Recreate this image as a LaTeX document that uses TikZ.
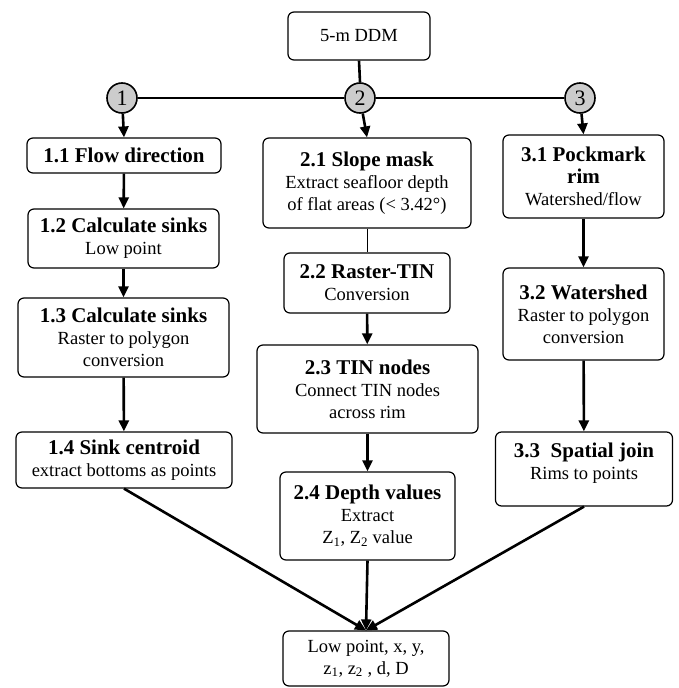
\documentclass[tikz,border=0pt]{standalone}
\usepackage{fontspec}
\setmainfont{Liberation Serif}
\usetikzlibrary{arrows.meta}

\newcommand{\titulo}[1]{{\bfseries\fontsize{21}{22}\selectfont #1}}

\begin{document}
\begin{tikzpicture}[x=1pt, y=-1pt,
    caja/.style={draw, rounded corners=6pt, line width=1.2pt, align=center,
        inner sep=0pt, font=\fontsize{18.5}{22}\selectfont},
    circulo/.style={draw, circle, fill=gray!40, line width=1.6pt,
        minimum size=30pt, inner sep=0pt, font=\fontsize{22}{22}\selectfont},
    linea/.style={line width=2.6pt},
    flecha/.style={line width=2.6pt, -{Triangle[length=11pt,width=10pt]}}
]
    \useasboundingbox (0,0) rectangle (678,688);

    % Modelo de entrada
    \node[caja, minimum width=142pt, minimum height=48pt] (ddm) at (359,36) {5-m DDM};

    % Ramas 1, 2 y 3
    \node[circulo] (c1) at (122,98) {1};
    \node[circulo] (c2) at (360,98) {2};
    \node[circulo] (c3) at (580,98) {3};
    \draw[linea] (ddm.south) -- (c2.north);
    \draw[linea] (c1) -- (c2) -- (c3);

    % Columna 1
    \node[caja, minimum width=194pt, minimum height=35pt] (n11) at (124,155.5)
        {\titulo{1.1 Flow direction}};
    \node[caja, minimum width=191pt, minimum height=59pt] (n12) at (123.5,238.5)
        {\titulo{1.2 Calculate sinks}\\Low point};
    \node[caja, minimum width=211pt, minimum height=79pt] (n13) at (123.5,337.5)
        {\titulo{1.3 Calculate sinks}\\Raster to polygon\\conversion};
    \node[caja, minimum width=216pt, minimum height=56pt] (n14) at (124,460)
        {\titulo{1.4 Sink centroid}\\extract bottoms as points};

    % Columna 2
    \node[caja, minimum width=208pt, minimum height=90pt] (n21) at (367,183)
        {\titulo{2.1 Slope mask}\\Extract seafloor depth\\of flat areas (< 3.42°)};
    \node[caja, minimum width=166pt, minimum height=60pt] (n22) at (367,283)
        {\titulo{2.2 Raster-TIN}\\Conversion};
    \node[caja, minimum width=221pt, minimum height=88pt] (n23) at (367.5,389)
        {\titulo{2.3 TIN nodes}\\Connect TIN nodes\\across rim};
    \node[caja, minimum width=175pt, minimum height=88pt] (n24) at (367.5,516)
        {\titulo{2.4 Depth values}\\Extract\\Z\textsubscript{1}, Z\textsubscript{2} value};

    % Columna 3
    \node[caja, minimum width=161pt, minimum height=83pt] (n31) at (583.5,176.5)
        {\titulo{3.1 Pockmark}\\\titulo{rim}\\Watershed/flow};
    \node[caja, minimum width=161pt, minimum height=92pt] (n32) at (583.5,314)
        {\titulo{3.2 Watershed}\\Raster to polygon\\conversion};
    \node[caja, minimum width=177pt, minimum height=74pt] (n33) at (584,469)
        {\titulo{3.3\ \ Spatial join}\\Rims to points\\[-6pt]\mbox{}};

    % Resultado
    \node[caja, minimum width=166pt, minimum height=55pt] (low) at (366,658.5)
        {Low point, x, y,\\z\textsubscript{1}, z\textsubscript{2} , d, D};

    % Flechas
    \draw[flecha] (c1) -- (n11.north);
    \draw[flecha] (n11) -- (n12);
    \draw[flecha] (n12) -- (n13);
    \draw[flecha] (n13) -- (n14);
    \draw[flecha] (c2) -- (n21.north);
    \draw[line width=1pt] (n21) -- (n22);
    \draw[flecha] (n22) -- (n23);
    \draw[flecha] (n23) -- (n24);
    \draw[flecha] (c3) -- (n31.north);
    \draw[flecha] (n31) -- (n32);
    \draw[flecha] (n32) -- (n33);
    \draw[flecha] (n14.south) -- (low.north);
    \draw[flecha] (n24.south) -- (low.north);
    \draw[flecha] (n33.south) -- (low.north);
\end{tikzpicture}
\end{document}
